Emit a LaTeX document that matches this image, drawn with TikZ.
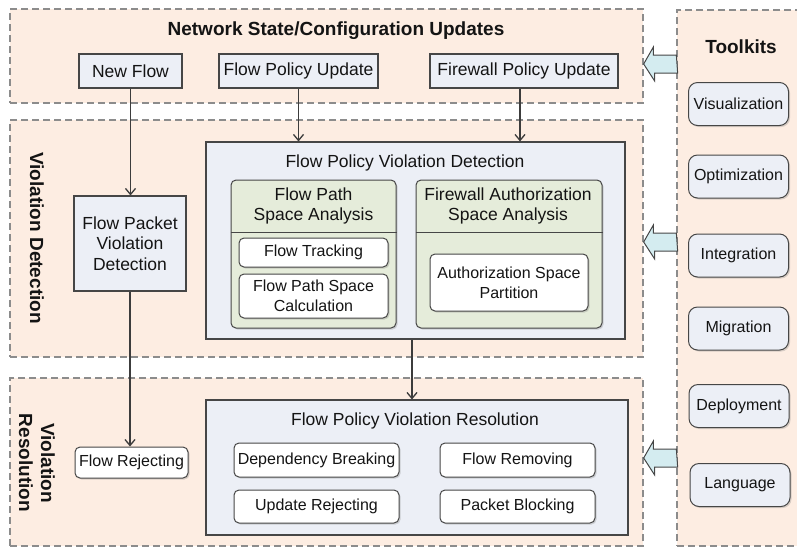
\documentclass[tikz,border=0pt]{standalone}
\usepackage{fontspec}
\setmainfont{Liberation Sans}
\usetikzlibrary{arrows.meta,shadows}

\definecolor{panelfill}{RGB}{253,237,226}
\definecolor{panelline}{RGB}{140,140,140}
\definecolor{boxfill}{RGB}{236,239,246}
\definecolor{greenfill}{RGB}{229,236,218}
\definecolor{arrowfill}{RGB}{212,236,240}
\definecolor{edge}{RGB}{70,70,70}
\definecolor{ink}{RGB}{20,20,20}

\newcommand\txtA{\fontsize{17.5}{20.5}\selectfont}
\newcommand\txtB{\fontsize{16}{20}\selectfont}
\newcommand\txtH{\fontsize{19}{22}\selectfont\bfseries}

\begin{document}
\begin{tikzpicture}[x=1pt,y=-1pt,
  panel/.style={draw=panelline, fill=panelfill, line width=1.3pt,
    dash pattern=on 7pt off 4pt, inner sep=0pt},
  sqbox/.style={draw=edge, fill=boxfill, line width=1.1pt, inner sep=0pt,
    align=center, font=\txtA, text=ink},
  bigbox/.style={draw=edge, fill=boxfill, line width=1.1pt, inner sep=0pt},
  softshadow/.style={drop shadow={shadow xshift=1.5pt, shadow yshift=-1.5pt, opacity=0.3}},
  grpbox/.style={draw=edge, fill=greenfill, line width=1pt, rounded corners=5pt,
    inner sep=0pt, softshadow},
  wbox/.style={draw=edge, fill=white, line width=1pt, rounded corners=5pt,
    inner sep=0pt, align=center, font=\txtB, text=ink, softshadow},
  toolbox/.style={draw=edge, fill=boxfill, line width=1pt, rounded corners=9pt,
    minimum width=100pt, minimum height=43pt, inner sep=0pt, font=\txtB,
    text=ink, softshadow},
  label/.style={font=\txtA, text=ink, align=center, inner sep=0pt},
  heading/.style={font=\txtH, text=ink, align=center, inner sep=0pt},
  flow/.style={draw=edge!85!black, line width=1.3pt,
    -{Straight Barb[length=6pt,width=10pt,line width=1.3pt]}},
  side/.style={draw=edge, fill=arrowfill, line width=1pt, line join=miter}
]
\useasboundingbox (0,0) rectangle (797,550);

% dashed panels
\node[panel, minimum width=633pt, minimum height=94pt]  (top)    at (326.5,56) {};
\node[panel, minimum width=633pt, minimum height=237pt] (det)    at (326.5,238.5) {};
\node[panel, minimum width=633pt, minimum height=168pt] (res)    at (326.5,462) {};
\node[panel, minimum width=130pt, minimum height=536pt] (tkpanel) at (742,278) {};

% panel headings
\node[heading] (toptitle) at (336,31) {Network State/Configuration Updates};
\node[heading] (tktitle) at (741,47) {Toolkits};
\node[heading, rotate=-90] (dettitle) at (37,238) {Violation Detection};
\node[heading, rotate=-90] (restitle) at (37,463) {Violation\\Resolution};

% configuration updates
\node[sqbox, minimum width=103pt, minimum height=34pt] (newflow) at (130.5,71) {New Flow};
\node[sqbox, minimum width=159pt, minimum height=34pt] (fpu) at (298.5,71) {Flow Policy Update};
\node[sqbox, minimum width=188pt, minimum height=34pt] (fwpu) at (524,71) {Firewall Policy Update};

% violation detection
\node[sqbox, minimum width=112pt, minimum height=95pt] (fpvdet) at (130,243.5)
  {Flow Packet\\Violation\\Detection};
\node[bigbox, minimum width=419pt, minimum height=197pt] (fpvd) at (415.5,240.5) {};
\node[label] (fpvdtitle) at (405,163) {Flow Policy Violation Detection};

\node[grpbox, minimum width=165pt, minimum height=148pt] (fpsa) at (313.5,254) {};
\draw[edge, line width=1pt] (fpsa.west |- 0,232) -- (fpsa.east |- 0,232);
\node[label] (fpsatitle) at (313.5,206) {Flow Path\\Space Analysis};
\node[wbox, minimum width=149pt, minimum height=29pt] (ft) at (313.5,252.5) {Flow Tracking};
\node[wbox, minimum width=149pt, minimum height=44pt] (fpsc) at (313.5,296)
  {Flow Path Space\\Calculation};

\node[grpbox, minimum width=186pt, minimum height=148pt] (fasa) at (509,254) {};
\draw[edge, line width=1pt] (fasa.west |- 0,232) -- (fasa.east |- 0,232);
\node[label] (fasatitle) at (508,206) {Firewall Authorization\\Space Analysis};
\node[wbox, minimum width=158pt, minimum height=57pt] (asp) at (509,282.5)
  {Authorization Space\\Partition};

% violation resolution
\node[wbox, minimum width=113pt, minimum height=31pt] (flowrej) at (131.5,462.5) {Flow Rejecting};
\node[bigbox, minimum width=422pt, minimum height=135pt] (fpvr) at (417,467.5) {};
\node[label] (fpvrtitle) at (415,421) {Flow Policy Violation Resolution};
\node[wbox, minimum width=165pt, minimum height=34pt] (depb) at (316.5,460) {Dependency Breaking};
\node[wbox, minimum width=165pt, minimum height=33pt] (updrej) at (316.5,506.5) {Update Rejecting};
\node[wbox, minimum width=155pt, minimum height=34pt] (flowrem) at (517.5,460) {Flow Removing};
\node[wbox, minimum width=155pt, minimum height=33pt] (pktblk) at (517.5,506.5) {Packet Blocking};

% toolkits
\node[toolbox] (vis) at (738.5,104)   {Visualization};
\node[toolbox] (opt) at (738.5,176.5) {Optimization};
\node[toolbox] (int) at (738.5,255.5) {Integration};
\node[toolbox] (mig) at (738.5,328.5) {Migration};
\node[toolbox] (dep) at (739,406)     {Deployment};
\node[toolbox] (lan) at (740,485)     {Language};

% toolkit block arrows into each panel
\foreach \yc/\tgt in {64/top, 242/det, 458/res}{
  \path (tkpanel.west |- 0,\yc) coordinate (s) (\tgt.east |- 0,\yc) coordinate (t);
  \draw[side] (s) ++(0,-9) -- ++(-23,0) -- ++(0,-8) -- (t) -- ++(11,17)
    -- ++(0,-8) -- ++(23,0) -- cycle;
}

% connectors
\draw[flow] (newflow.south) -- (newflow.south |- fpvdet.north);
\draw[flow] (fpvdet.south) -- (fpvdet.south |- flowrej.north);
\draw[flow] (fpu.south) -- (fpu.south |- fpvd.north);
\coordinate (fwx) at ([xshift=-4pt]fwpu.south);
\draw[flow] (fwx) -- (fwx |- fpvd.north);
\coordinate (dx) at ([xshift=-3.5pt]fpvd.south);
\draw[flow] (dx) -- (dx |- fpvr.north);
\end{tikzpicture}
\end{document}
